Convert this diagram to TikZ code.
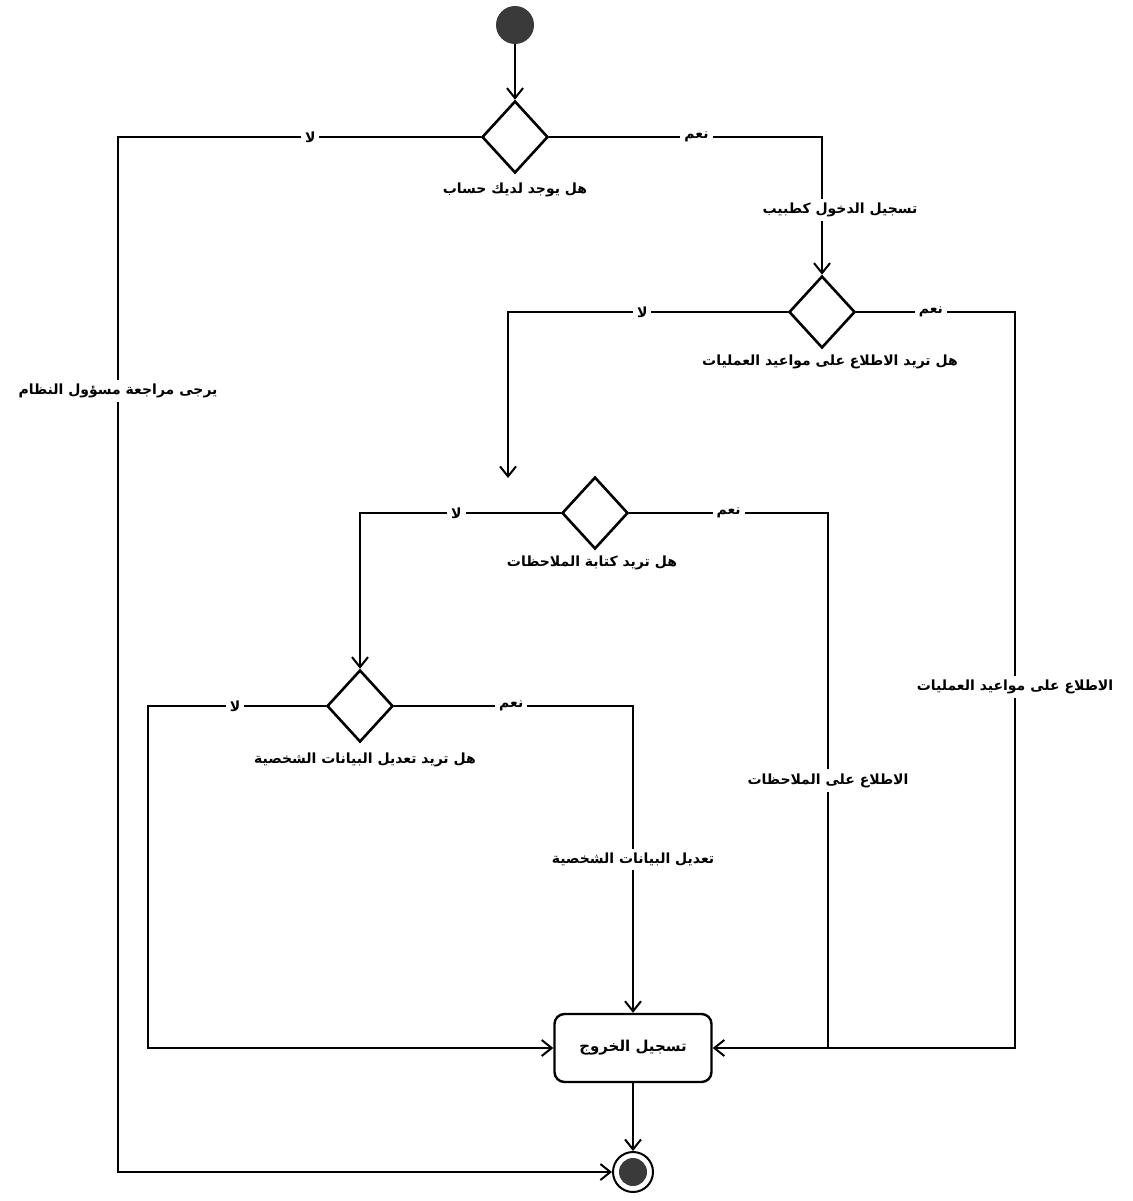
\documentclass[tikz,border=0pt]{standalone}
\usepackage{fontspec}
\usetikzlibrary{shapes.geometric,arrows.meta}
\TeXXeTstate=1
\newfontfamily\arabicfont[Script=Arabic]{DejaVu Sans}
\newcommand{\ar}[1]{{\arabicfont\bfseries\beginR #1\endR}}
\definecolor{dotgray}{HTML}{3A3A3A}
\tikzset{
  flow/.style={line width=2.3pt, draw=black},
  arr/.style={flow, -{Straight Barb[length=10pt,width=16pt,line width=2pt]}},
  decision/.style={diamond, draw=black, line width=2.6pt, fill=white, inner sep=0pt, minimum width=66pt, minimum height=72pt},
  lbl/.style={fill=white, inner sep=4pt, font=\fontsize{14}{16}\selectfont},
  qtext/.style={font=\fontsize{14}{16}\selectfont, inner sep=1pt},
  activity/.style={rectangle, rounded corners=10pt, draw=black, line width=2.4pt, fill=white, minimum width=157pt, minimum height=68pt, font=\fontsize{15}{17}\selectfont},
}
\begin{document}
\begin{tikzpicture}[x=1pt,y=-1pt]
\useasboundingbox (0,0) rectangle (1132,1201);
\fill[white] (0,0) rectangle (1132,1201);

% nodes
\node[circle, fill=dotgray, minimum size=38pt, inner sep=0pt] (start) at (515,25) {};
\node[decision] (d1) at (515,137) {};
\node[decision] (d2) at (822,312) {};
\node[decision] (d3) at (595,513) {};
\node[decision] (d4) at (360,706) {};
\node[activity] (out) at (633,1048) {\ar{تسجيل الخروج}};
\node[circle, draw=black, line width=2pt, fill=white, minimum size=40pt, inner sep=0pt] (fin) at (633,1172) {};
\node[circle, fill=dotgray, minimum size=28pt, inner sep=0pt] (finin) at (fin.center) {};

% captions under decisions
\node[qtext] (q1) at (515,190) {\ar{هل يوجد لديك حساب}};
\node[qtext] (q2) at (830,362) {\ar{هل تريد الاطلاع على مواعيد العمليات}};
\node[qtext] (q3) at (592,563) {\ar{هل تريد كتابة الملاحظات}};
\node[qtext] (q4) at (365,760) {\ar{هل تريد تعديل البيانات الشخصية}};

% coordinates
\coordinate (c1n) at (118,137);
\coordinate (c1y) at (822,137);
\coordinate (c2n) at (508,312);
\coordinate (e2n) at (508,478);
\coordinate (c2y) at (1015,312);
\coordinate (c3n) at (360,513);
\coordinate (c3y) at (828,513);
\coordinate (c4n) at (148,706);
\coordinate (c4y) at (633,706);

% connectors
\draw[arr] (start) -- (d1.north);

\draw[arr] (d1.west) -- node[lbl, pos=0.47] {\ar{لا}} (c1n)
  -- node[lbl, pos=0.245] {\ar{يرجى مراجعة مسؤول النظام}} (c1n |- fin) -- (fin.west);

\draw[arr] (d1.east) -- node[lbl, pos=0.54] {\ar{نعم}} (c1y)
  -- node[lbl, pos=0.53, xshift=18pt] {\ar{تسجيل الدخول كطبيب}} (d2.north);

\draw[arr] (d2.west) -- node[lbl, pos=0.52] {\ar{لا}} (c2n) -- (e2n);

\draw[arr] (d2.east) -- node[lbl, pos=0.47] {\ar{نعم}} (c2y)
  -- node[lbl, pos=0.51] {\ar{الاطلاع على مواعيد العمليات}} (c2y |- out.east) -- (out.east);

\draw[arr] (d3.west) -- node[lbl, pos=0.52] {\ar{لا}} (c3n) -- (d4.north);

\draw[flow] (d3.east) -- node[lbl, pos=0.5] {\ar{نعم}} (c3y)
  -- node[lbl, pos=0.5] {\ar{الاطلاع على الملاحظات}} (c3y |- out.east);

\draw[arr] (d4.west) -- node[lbl, pos=0.51] {\ar{لا}} (c4n) -- (c4n |- out.west) -- (out.west);

\draw[arr] (d4.east) -- node[lbl, pos=0.49] {\ar{نعم}} (c4y)
  -- node[lbl, pos=0.5] {\ar{تعديل البيانات الشخصية}} (out.north);

\draw[arr] (out.south) -- (fin.north);
\end{tikzpicture}
\end{document}
